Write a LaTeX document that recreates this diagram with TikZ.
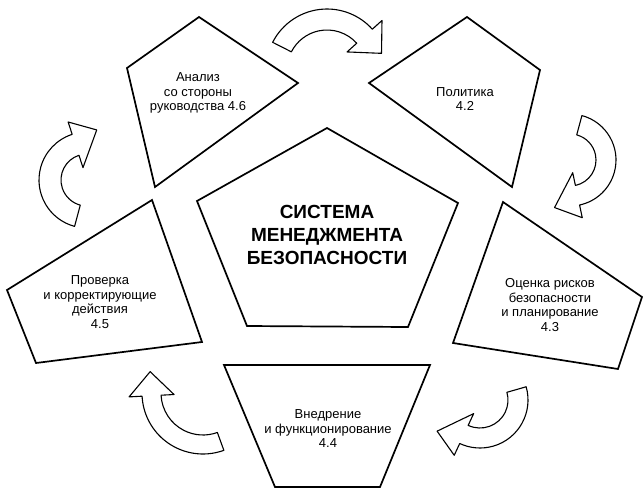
\documentclass[tikz,border=0pt]{standalone}
\usepackage{fontspec}
\setmainfont{Liberation Sans}
% bent block arrow: centre, inner r, outer r, tail angle, end angle, tip angle, tip r
\newcommand{\turnarrow}[7]{%
  \draw[turn] ([shift={(#4:#3)}]#1) arc[start angle=#4, end angle=#5, radius=#3]
    -- ([shift={(#5:#3+13)}]#1) -- ([shift={(#6:#7)}]#1)
    -- ([shift={(#5:#2-13)}]#1) -- ([shift={(#5:#2)}]#1)
    arc[start angle=#5, end angle=#4, radius=#2] -- cycle;}
\begin{document}
\begin{tikzpicture}[x=1pt,y=-1pt,
  block/.style={draw, line width=1.7pt, line join=miter},
  turn/.style={draw, line width=1.1pt, fill=white, line join=round},
  lbl/.style={align=center, font=\fontsize{13}{14.5}\selectfont},
  title/.style={align=center, font=\fontsize{19}{23.3}\selectfont\bfseries}]
\useasboundingbox (0,0) rectangle (643,488);
% centre
\draw[block] (327,128) -- (458,203) -- (408,327) -- (247,326) -- (197,201) -- cycle;
\node[title] (sms) at (327,235) {СИСТЕМА\\МЕНЕДЖМЕНТА\\БЕЗОПАСНОСТИ};
% the five stages
\draw[block] (199,17) -- (298,83) -- (155,187) -- (127,68) -- cycle;
\node[lbl] (analysis) at (198,93) {Анализ\\со стороны\\руководства 4.6};
\draw[block] (467,17) -- (540,70) -- (512,187) -- (369,83) -- cycle;
\node[lbl] (policy) at (465,99) {Политика\\4.2};
\draw[block] (503,202) -- (642,297) -- (618,369) -- (453,343) -- cycle;
\node[lbl] (risk) at (550,305) {Оценка рисков\\безопасности\\и планирование\\4.3};
\draw[block] (224,365) -- (430,365) -- (380,487) -- (275,487) -- cycle;
\node[lbl] (impl) at (328,429) {Внедрение\\и функционирование\\4.4};
\draw[block] (152,200) -- (202,342) -- (36,363) -- (7,290) -- cycle;
\node[lbl] (check) at (100,302) {Проверка\\и корректирующие\\действия\\4.5};
% arrows
\coordinate (c1) at (327,70);
\coordinate (c2) at (570,160);
\coordinate (c3) at (480,400);
\coordinate (c4) at (203,393);
\coordinate (c5) at (87,180);
\turnarrow{c1}{40}{61}{-153}{-42}{-17}{57}
\turnarrow{c2}{26}{46}{-75}{78}{108}{50}
\turnarrow{c3}{28}{48}{-16}{115}{144}{53}
\turnarrow{c4}{42}{61}{70}{177}{202}{57}
\turnarrow{c5}{26}{48}{105}{252}{281}{51}
\end{tikzpicture}
\end{document}
